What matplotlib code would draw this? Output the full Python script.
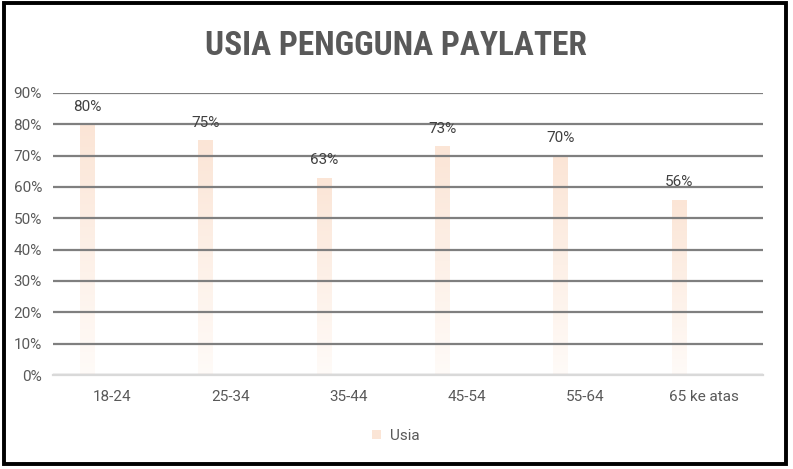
import numpy as np
import matplotlib
matplotlib.use('Agg')
import matplotlib.pyplot as plt
from matplotlib.patches import Rectangle
from matplotlib.ticker import PercentFormatter

# data
categories = ['18-24', '25-34', '35-44', '45-54', '55-64', '65 ke atas']
usia = [0.80, 0.75, 0.63, 0.73, 0.70, 0.56]
series_name = 'Usia'

plt.rcParams['font.family'] = ['Roboto', 'DejaVu Sans']

W, H = 793, 469
fig = plt.figure(figsize=(W / 100, H / 100), dpi=100)
ax = fig.add_axes([53 / W, (H - 375) / H, (763 - 53) / W, (375 - 93) / H])

x = np.arange(len(categories))
bar_w = 0.123
offset = -0.21
bars = ax.bar(x + offset, usia, width=bar_w, color='none', edgecolor='none', zorder=1)

# vertical gradient fill, peach at top fading to white at the bottom
top = np.array([251, 229, 214]) / 255
bot = np.array([255, 251, 248]) / 255
t = np.linspace(0, 1, 256)[:, None]
grad = (bot + (top - bot) * t)[:, None, :]
for b in bars:
    im = ax.imshow(grad, origin='lower', aspect='auto', zorder=1,
                   extent=[b.get_x(), b.get_x() + b.get_width(), 0, b.get_height()])
    im.set_clip_path(b)

ax.set_xlim(-0.5, len(categories) - 0.5)
ax.set_ylim(0, 0.9)
ax.set_yticks(np.arange(0, 0.91, 0.1))
ax.yaxis.set_major_formatter(PercentFormatter(1.0, decimals=0))
ax.set_xticks(x)
ax.set_xticklabels(categories)

ax.grid(axis='y', color='#7f7f7f', linewidth=1.6, zorder=2)
ax.set_axisbelow(False)
for s in ['top', 'right', 'left']:
    ax.spines[s].set_visible(False)
ax.spines['bottom'].set_color('#d9d9d9')
ax.spines['bottom'].set_linewidth(1.6)
ax.spines['bottom'].set_zorder(3)
ax.tick_params(axis='both', length=0, labelsize=11, labelcolor='#595959')
ax.tick_params(axis='y', pad=8)
ax.tick_params(axis='x', pad=11)

for xi, v in zip(x + offset, usia):
    ax.annotate(f'{v:.0%}', (xi, v), xytext=(0, 12.5), textcoords='offset points',
                ha='center', va='center', fontsize=11, color='#404040')

fig.text(396 / W, 1 - 46 / H, 'USIA PENGGUNA PAYLATER', ha='center', va='center',
         fontsize=24, fontweight='bold', color='#595959',
         family=['Roboto Condensed', 'Liberation Sans Narrow', 'Roboto'])

handle = Rectangle((0, 0), 1, 1, facecolor='#fbe5d6', edgecolor='none')
fig.legend([handle], [series_name], loc='center', bbox_to_anchor=(396 / W, 1 - 436 / H),
           frameon=False, fontsize=11, labelcolor='#595959', handlelength=0.6,
           handleheight=0.6, handletextpad=0.6)

# outer frame
fig.patches.append(Rectangle((3.5 / W, 5.5 / H), (785.5 - 3.5) / W, (465.5 - 5.5) / H,
                             transform=fig.transFigure, fill=False, edgecolor='black',
                             linewidth=2.8))

fig.savefig('out.png', dpi=100)
